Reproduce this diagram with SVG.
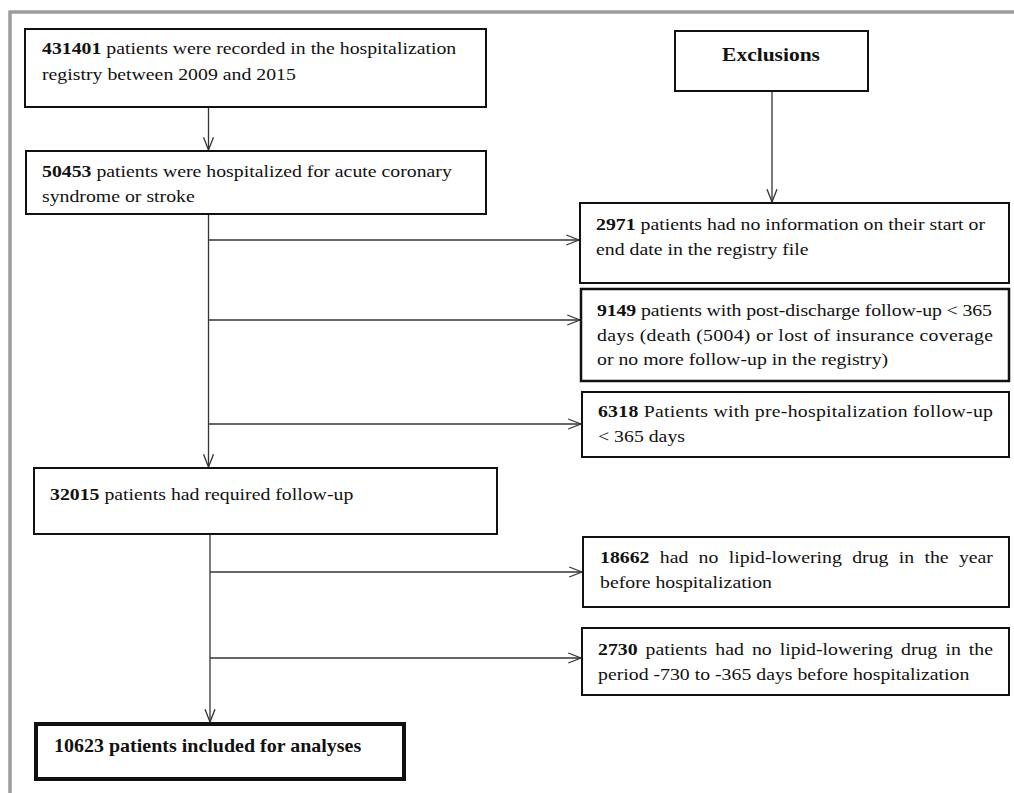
<svg xmlns="http://www.w3.org/2000/svg" width="1014" height="793" viewBox="0 0 1014 793">
<style>
.t{font-family:"Liberation Serif","Times New Roman",serif;font-size:19.8px;fill:#111}
.b{font-weight:bold}
.box{fill:#fff;stroke:#111;stroke-width:2}
.c{stroke:#333;stroke-width:1.3;fill:none}
</style>
<defs>
<marker id="ah" markerUnits="userSpaceOnUse" viewBox="0 0 14 12" refX="13.3" refY="6" markerWidth="14" markerHeight="12" orient="auto">
<path d="M0.5,1 L13.3,6 L0.5,11" fill="none" stroke="#333" stroke-width="1.3"/>
</marker>
</defs>
<rect width="1014" height="793" fill="#fff"/>
<path d="M10 793 V12 H1014" fill="none" stroke="#9c9c9c" stroke-width="3.5"/>

<g id="connectors">
<line class="c" x1="208.5" y1="107" x2="208.5" y2="150" marker-end="url(#ah)"/>
<line class="c" x1="772" y1="91" x2="772" y2="202" marker-end="url(#ah)"/>
<line class="c" x1="208.5" y1="214" x2="208.5" y2="467" marker-end="url(#ah)"/>
<line class="c" x1="208.5" y1="240" x2="579" y2="240" marker-end="url(#ah)"/>
<line class="c" x1="208.5" y1="320" x2="580" y2="320" marker-end="url(#ah)"/>
<line class="c" x1="208.5" y1="424" x2="581" y2="424" marker-end="url(#ah)"/>
<line class="c" x1="210" y1="534" x2="210" y2="722" marker-end="url(#ah)"/>
<line class="c" x1="210" y1="572" x2="582" y2="572" marker-end="url(#ah)"/>
<line class="c" x1="210" y1="658" x2="581" y2="658" marker-end="url(#ah)"/>
</g>

<g id="n431401">
<rect class="box" x="25" y="29" width="461" height="78"/>
<text class="t" transform="translate(42,54) scale(1,0.85)"><tspan class="b">431401</tspan> patients were recorded in the hospitalization</text>
<text class="t" transform="translate(42,80) scale(1,0.85)">registry between 2009 and 2015</text>
</g>

<g id="n50453">
<rect class="box" x="26" y="151" width="460" height="63"/>
<text class="t" transform="translate(42,177) scale(1,0.85)"><tspan class="b">50453</tspan> patients were hospitalized for acute coronary</text>
<text class="t" transform="translate(42,202) scale(1,0.85)">syndrome or stroke</text>
</g>

<g id="exclusions">
<rect class="box" x="675" y="31" width="193" height="60"/>
<text class="t b" text-anchor="middle" style="font-size:21.5px" transform="translate(771,61) scale(1,0.85)">Exclusions</text>
</g>

<g id="n2971">
<rect class="box" x="580" y="203" width="429" height="80"/>
<text class="t" transform="translate(596,230) scale(1,0.85)"><tspan class="b">2971</tspan> patients had no information on their start or</text>
<text class="t" transform="translate(596,255) scale(1,0.85)">end date in the registry file</text>
</g>

<g id="n9149">
<rect class="box" x="581" y="289" width="428" height="92" style="stroke-width:2.5"/>
<text class="t" textLength="395" lengthAdjust="spacing" transform="translate(597,316) scale(1,0.85)"><tspan class="b">9149</tspan> patients with post-discharge follow-up &lt; 365</text>
<text class="t" textLength="396" lengthAdjust="spacing" transform="translate(597,340.5) scale(1,0.85)">days (death (5004) or lost of insurance coverage</text>
<text class="t" transform="translate(597,365) scale(1,0.85)">or no more follow-up in the registry)</text>
</g>

<g id="n6318">
<rect class="box" x="582" y="392" width="427" height="65"/>
<text class="t" textLength="395" lengthAdjust="spacing" transform="translate(598,417) scale(1,0.85)"><tspan class="b">6318</tspan> Patients with pre-hospitalization follow-up</text>
<text class="t" transform="translate(598,442) scale(1,0.85)">&lt; 365 days</text>
</g>

<g id="n32015">
<rect class="box" x="34" y="468" width="463" height="66"/>
<text class="t" transform="translate(50,500) scale(1,0.85)"><tspan class="b">32015</tspan> patients had required follow-up</text>
</g>

<g id="n18662">
<rect class="box" x="583" y="537" width="426" height="70"/>
<text class="t" transform="translate(600,563) scale(1,0.85)"><tspan class="b" x="0">18662</tspan><tspan x="59.8">had</tspan><tspan x="98.6">no</tspan><tspan x="128.7">lipid-lowering</tspan><tspan x="252.2">drug</tspan><tspan x="298.8">in</tspan><tspan x="324.4">the</tspan><tspan x="358.9">year</tspan></text>
<text class="t" transform="translate(600,588) scale(1,0.85)">before hospitalization</text>
</g>

<g id="n2730">
<rect class="box" x="582" y="628" width="427" height="67"/>
<text class="t" transform="translate(598,655) scale(1,0.85)"><tspan class="b" x="0">2730</tspan><tspan x="47.6">patients</tspan><tspan x="117.3">had</tspan><tspan x="153.9">no</tspan><tspan x="181.7">lipid-lowering</tspan><tspan x="303">drug</tspan><tspan x="347.4">in</tspan><tspan x="370.8">the</tspan></text>
<text class="t" transform="translate(598,680) scale(1,0.85)">period -730 to -365 days before hospitalization</text>
</g>

<g id="n10623">
<rect class="box" x="36" y="724" width="368" height="55" style="stroke-width:4"/>
<text class="t b" style="font-size:20px" transform="translate(54,752) scale(1,0.9)">10623 patients included for analyses</text>
</g>
</svg>
